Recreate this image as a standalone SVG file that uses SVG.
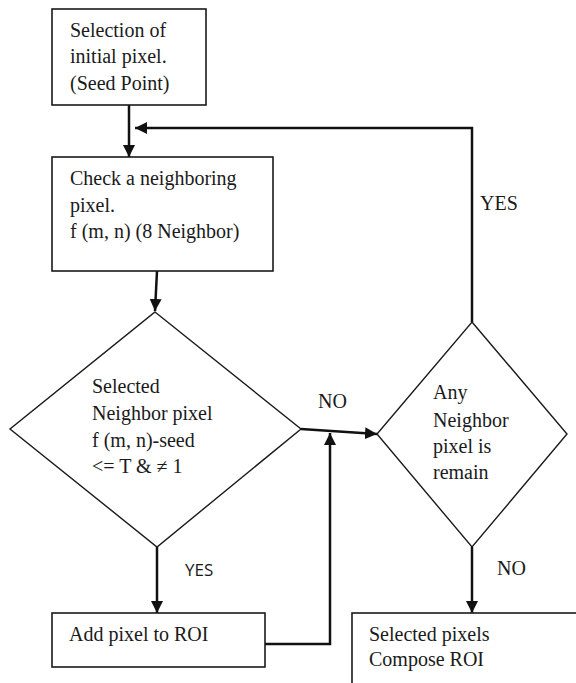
<svg xmlns="http://www.w3.org/2000/svg" width="576" height="683" viewBox="0 0 576 683">
  <style>
    .box { fill: #fff; stroke: #1a1a1a; stroke-width: 1.6; }
    .dia { fill: #fff; stroke: #1a1a1a; stroke-width: 1.4; }
    .t { font-family: "Liberation Serif", "Times New Roman", "DejaVu Serif", serif; font-size: 20px; fill: #1a1a1a; }
    .s { font-family: "Open Sans", "Noto Sans", sans-serif; font-size: 17px; fill: #1a1a1a; }
    .c { fill: none; stroke: #111; stroke-width: 2.5; }
  </style>
  <defs>
    <marker id="ah" markerUnits="userSpaceOnUse" markerWidth="13" markerHeight="13" refX="12" refY="6" orient="auto">
      <path d="M0,0 L12,6 L0,12 z" fill="#111"/>
    </marker>
  </defs>
  <rect width="576" height="683" fill="#fff"/>

  <g id="connectors">
    <line class="c" x1="129" y1="105" x2="129" y2="157" marker-end="url(#ah)"/>
    <path class="c" d="M472,322 V128 H135" marker-end="url(#ah)"/>
    <polygon points="152,263 158,257 158,270" fill="#111"/>
    <line class="c" x1="157" y1="271" x2="155" y2="311" marker-end="url(#ah)"/>
    <line class="c" x1="157" y1="547" x2="157" y2="613" marker-end="url(#ah)"/>
    <path class="c" d="M265,644 H330 V433" marker-end="url(#ah)"/>
    <line class="c" x1="301" y1="429" x2="377" y2="434" marker-end="url(#ah)"/>
    <line class="c" x1="472" y1="547" x2="472" y2="613" marker-end="url(#ah)"/>
    <text class="t" x="480" y="210">YES</text>
    <text class="t" x="318" y="408">NO</text>
    <text class="s" x="185" y="576">YES</text>
    <text class="t" x="497" y="575">NO</text>
  </g>

  <g id="seed">
    <rect class="box" x="52" y="9" width="154" height="96"/>
    <text class="t" x="70" y="37">Selection of</text>
    <text class="t" x="70" y="63">initial pixel.</text>
    <text class="t" x="70" y="90">(Seed Point)</text>
  </g>

  <g id="check">
    <rect class="box" x="52" y="157" width="221" height="114"/>
    <text class="t" x="70" y="185">Check a neighboring</text>
    <text class="t" x="70" y="212">pixel.</text>
    <text class="t" x="70" y="238">f (m, n) (8 Neighbor)</text>
  </g>

  <g id="test">
    <polygon class="dia" points="155,312 301,429 157,547 10,429"/>
    <text class="t" x="92" y="393">Selected</text>
    <text class="t" x="92" y="420">Neighbor pixel</text>
    <text class="t" x="92" y="447">f (m, n)-seed</text>
    <text class="t" x="92" y="473">&lt;= T &amp; ≠ 1</text>
  </g>

  <g id="add">
    <rect class="box" x="52" y="613" width="213" height="54"/>
    <text class="t" x="69" y="641">Add pixel to ROI</text>
  </g>

  <g id="remain">
    <polygon class="dia" points="472,322 567,434 472,547 377,434"/>
    <text class="t" x="433" y="399">Any</text>
    <text class="t" x="433" y="427">Neighbor</text>
    <text class="t" x="433" y="453">pixel is</text>
    <text class="t" x="433" y="479">remain</text>
  </g>

  <g id="result">
    <rect class="box" x="352" y="613" width="240" height="100"/>
    <text class="t" x="369" y="641">Selected pixels</text>
    <text class="t" x="369" y="666">Compose ROI</text>
  </g>
</svg>
